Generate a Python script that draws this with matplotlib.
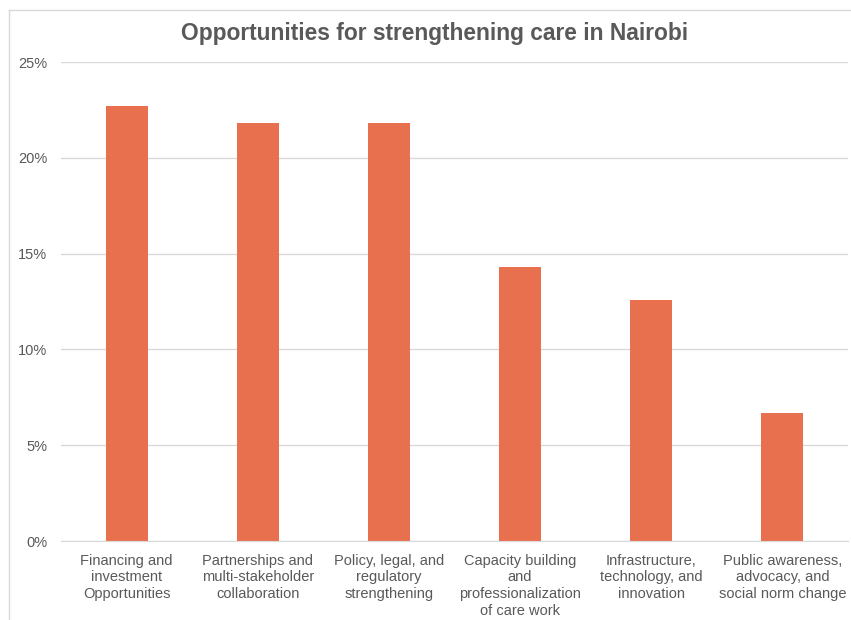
import matplotlib
matplotlib.use('Agg')
import matplotlib.pyplot as plt
from matplotlib.lines import Line2D
from matplotlib.ticker import FuncFormatter

plt.rcParams['font.family'] = ['Liberation Sans', 'DejaVu Sans']

categories = [
    'Financing and\ninvestment\nOpportunities',
    'Partnerships and\nmulti-stakeholder\ncollaboration',
    'Policy, legal, and\nregulatory\nstrengthening',
    'Capacity building\nand\nprofessionalization\nof care work',
    'Infrastructure,\ntechnology, and\ninnovation',
    'Public awareness,\nadvocacy, and\nsocial norm change',
]
shares = [22.7, 21.8, 21.8, 14.3, 12.6, 6.7]
yticks = [0, 5, 10, 15, 20, 25]

text_color = '#595959'
grid_color = '#d9d9d9'

fig = plt.figure(figsize=(8.51, 6.2), dpi=100)
ax = fig.add_axes([0.0717, 0.1274, 0.9248, 0.7726])

x = range(len(categories))
ax.bar(x, shares, width=0.32, color='#E8704F', zorder=3)

ax.set_xlim(-0.5, len(categories) - 0.5)
ax.set_ylim(0, 25)
ax.set_yticks(yticks)
ax.yaxis.set_major_formatter(FuncFormatter(lambda v, p: '{:.0f}%'.format(v)))
ax.set_xticks(list(x))
ax.set_xticklabels(categories, linespacing=1.27)

ax.tick_params(axis='both', length=0, labelsize=10.5, colors=text_color)
ax.tick_params(axis='y', pad=10)
ax.tick_params(axis='x', pad=9)

ax.grid(axis='y', color=grid_color, linewidth=1, zorder=0)
for s in ['top', 'right', 'left']:
    ax.spines[s].set_visible(False)
ax.spines['bottom'].set_color(grid_color)
ax.spines['bottom'].set_zorder(4)

fig.text(0.511, 0.946, 'Opportunities for strengthening care in Nairobi',
         ha='center', va='center', fontsize=16.4, fontweight='bold', color=text_color)

# outer chart frame (only top and left edges visible)
fig.add_artist(Line2D([9 / 851, 9 / 851], [0, 1 - 10 / 620], transform=fig.transFigure,
                      color=grid_color, linewidth=1))
fig.add_artist(Line2D([9 / 851, 1], [1 - 10 / 620, 1 - 10 / 620], transform=fig.transFigure,
                      color=grid_color, linewidth=1))

fig.savefig('out.png', dpi=100)
